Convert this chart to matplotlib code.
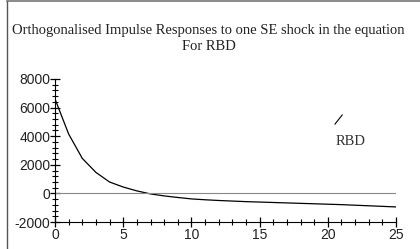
import matplotlib.pyplot as plt
import matplotlib.lines as mlines
from matplotlib.ticker import MultipleLocator

plt.rcParams["axes.unicode_minus"] = False

horizon = list(range(26))
rbd = [6600, 4150, 2450, 1470, 800, 450, 180, -30, -170, -280,
       -380, -440, -490, -530, -570, -600, -630, -660, -690, -720,
       -750, -780, -820, -860, -900, -940]
xticks = [0, 5, 10, 15, 20, 25]
yticks = [-2000, 0, 2000, 4000, 6000, 8000]

fig = plt.figure(figsize=(4.2, 2.49), dpi=100)
ax = fig.add_axes([0.131, 0.108, 0.812, 0.575])

ax.plot(horizon, rbd, color="black", linewidth=0.9)
ax.axhline(0, color="#888888", linewidth=0.8)

ax.set_xlim(0, 25)
ax.set_ylim(-2000, 8000)
ax.set_xticks(xticks)
ax.set_yticks(yticks)
ax.xaxis.set_minor_locator(MultipleLocator(1))
ax.yaxis.set_minor_locator(MultipleLocator(400))
ax.tick_params(which="major", direction="inout", length=7, width=0.9,
               labelsize=10, pad=0)
ax.tick_params(which="minor", direction="inout", length=4, width=0.8)
ax.tick_params(axis="x", pad=1)
for lab in ax.get_xticklabels() + ax.get_yticklabels():
    lab.set_family("Liberation Sans")
    lab.set_color("#222222")
for s in ["top", "right"]:
    ax.spines[s].set_visible(False)

# legend mark
ax.add_line(mlines.Line2D([0.821, 0.842], [0.685, 0.748], transform=ax.transAxes,
                          color="black", linewidth=0.8))
ax.text(0.868, 0.566, "RBD", transform=ax.transAxes, ha="center", va="center",
        family="Liberation Serif", fontsize=10.5, color="#333333")

fig.text(0.497, 0.878, "Orthogonalised Impulse Responses to one SE shock in the equation",
         ha="center", va="center", family="Liberation Serif", fontsize=10.5, color="#222222")
fig.text(0.497, 0.812, "For RBD", ha="center", va="center",
         family="Liberation Serif", fontsize=10.5, color="#222222")

# outer frame lines
fig.add_artist(mlines.Line2D([0.017, 0.017], [0, 0.996], transform=fig.transFigure,
                             color="#555555", linewidth=1))
fig.add_artist(mlines.Line2D([0.017, 1], [0.996, 0.996], transform=fig.transFigure,
                             color="#777777", linewidth=1.2))

fig.savefig("out.png", dpi=100)
